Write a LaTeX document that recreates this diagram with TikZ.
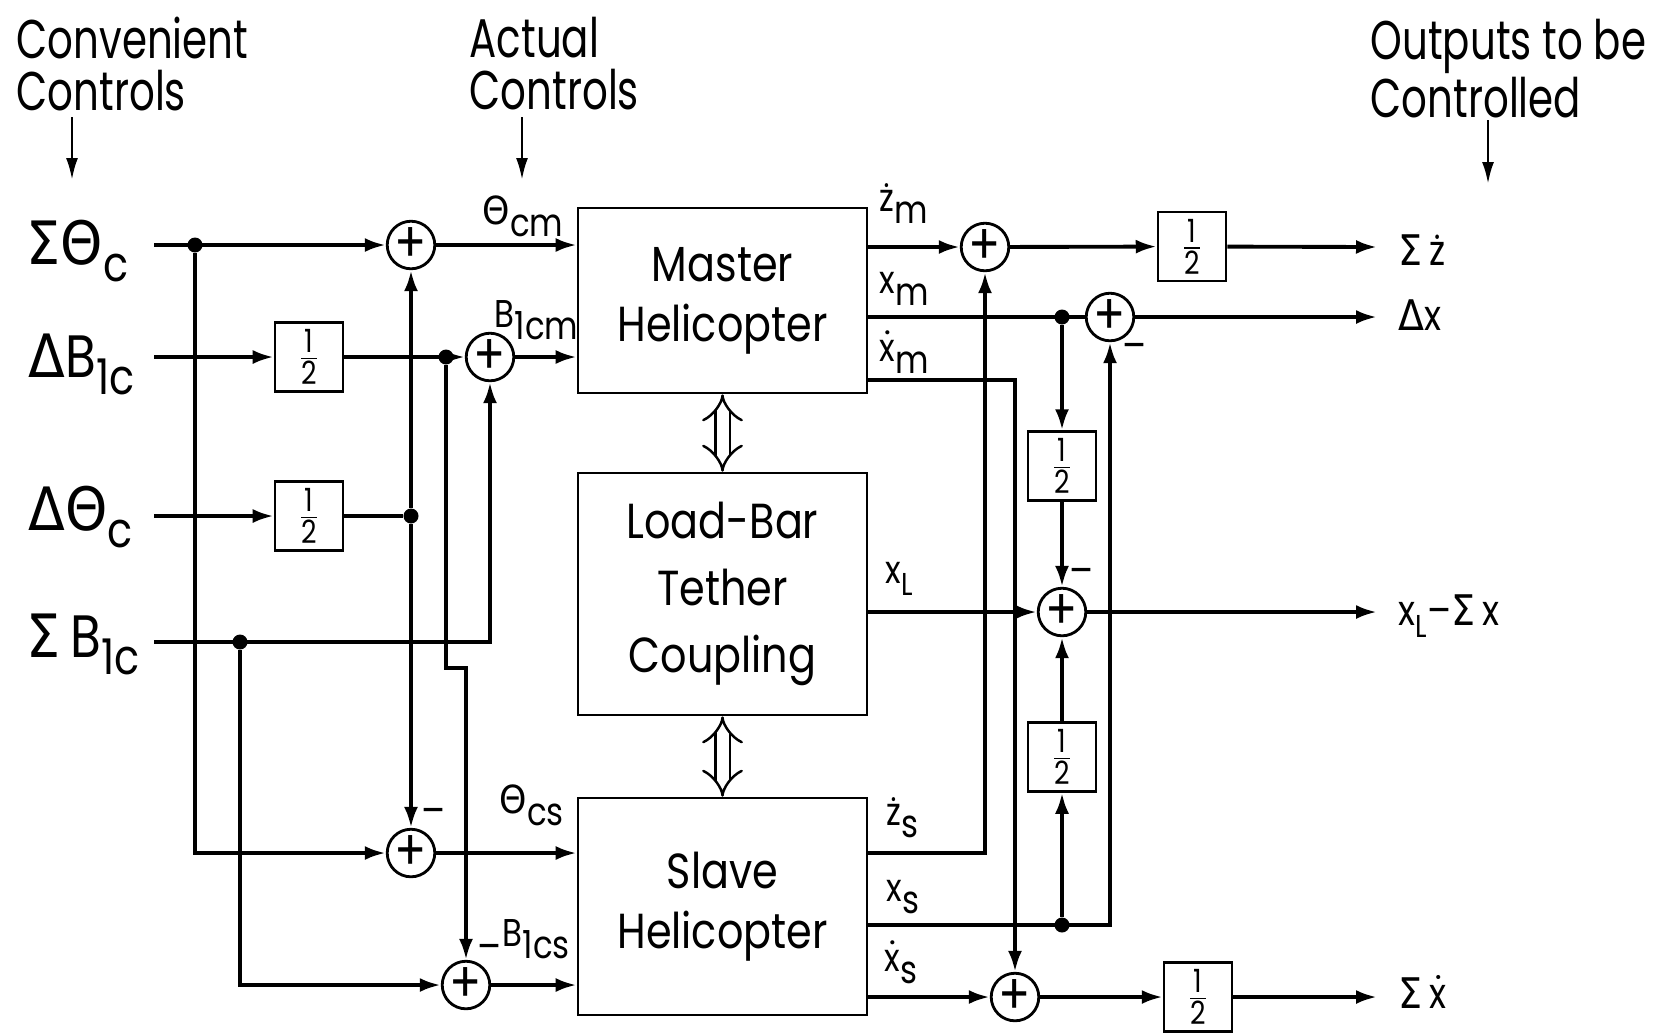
\documentclass[tikz,border=0pt]{standalone}
\usepackage{amsmath}
\usepackage{fontspec}
\setmainfont{Poppins}[FakeStretch=0.84]
\newfontfamily\narrowfont{Poppins}[FakeStretch=0.74]
\newfontfamily\grkfont{DejaVu Sans}[FakeStretch=0.9]
\usepackage{tikz}
\usetikzlibrary{arrows.meta,calc,positioning}
\newcommand{\Sig}{{\grkfont Σ}}
\newcommand{\Del}{{\grkfont Δ}}
\newcommand{\Tht}{{\grkfont Θ}}
\newcommand{\lo}[1]{\raisebox{-5pt}{\fontsize{14}{14}\selectfont #1}}
\newcommand{\ls}[1]{\raisebox{-3.5pt}{#1}}
\newcommand{\dotover}[1]{$\dot{\text{#1}}$}
\newcommand{\half}{$\frac{\text{1}}{\text{2}}$}
\tikzset{
>={Latex[length=2.1mm,width=1.4mm]},
heli box/.style={
  draw,
  line width=0.7pt,
  minimum width=2.89cm,
  minimum height=1.85cm,
  align=center,
  inner sep=2pt,
  font=\fontsize{14}{17}\selectfont
},
bar box/.style={heli box, minimum height=2.42cm, font=\fontsize{14}{19}\selectfont},
gain box/.style={draw, line width=0.7pt, minimum width=0.68cm, minimum height=0.69cm, inner sep=0pt, font=\fontsize{13}{15}\selectfont},
sum node/.style={draw, circle, line width=0.8pt, minimum size=0.38cm, inner sep=0pt, font=\fontsize{16}{16}\selectfont},
junction/.style={circle, fill, minimum size=1.5mm, inner sep=0pt},
sig flow/.style={->, line width=1.1pt},
sig line/.style={line width=1.1pt},
couple arrow/.style={double, double distance=1.2mm, line width=0.7pt, {Implies}-{Implies}},
in label/.style={anchor=base west, inner sep=0pt, font=\fontsize{17}{20}\selectfont},
sig label/.style={anchor=base west, inner sep=0pt, font=\fontsize{11}{13}\selectfont},
out label/.style={anchor=base west, inner sep=0pt, font=\fontsize{12}{14}\selectfont},
sign label/.style={inner sep=0pt, font=\fontsize{12}{12}\selectfont},
head label/.style={anchor=north west, inner sep=0pt, align=left, font=\narrowfont\fontsize{15.5}{15}\selectfont},
head arrow/.style={-{Latex[length=2.2mm,width=1.2mm]}, line width=0.8pt}
}
\begin{document}
\begin{tikzpicture}[x=0.01cm,y=-0.01cm]
\useasboundingbox (0,0) rectangle (1661,1032);

% headings
\node[head label] (hConv) at (16,16) {Convenient\\Controls};
\node[head label] (hAct) at (469,16) {Actual\\Controls};
\node[head label] (hOut) at (1370,18) {Outputs to be\\Controlled};
\coordinate (sConv) at (72,117);
\coordinate (tConv) at (72,180);
\coordinate (sAct) at (522,117);
\coordinate (tAct) at (522,180);
\coordinate (sOut) at (1488,120);
\coordinate (tOut) at (1488,184);
\draw[head arrow] (sConv) -- (tConv);
\draw[head arrow] (sAct) -- (tAct);
\draw[head arrow] (sOut) -- (tOut);

% blocks
\node[heli box] (master) at (722.5,300.5) {Master\\Helicopter};
\node[bar box] (coupling) at (722.5,594) {Load-Bar\\Tether\\Coupling};
\node[heli box,minimum height=2.17cm] (slave) at (722.5,906.5) {Slave\\Helicopter};
\draw[couple arrow] (master.south) -- (coupling.north);
\draw[couple arrow] (coupling.south) -- (slave.north);

% convenient controls
\node[in label] (lST) at (26,264) {\Sig\Tht\lo{c}};
\node[in label] (lDB) at (28,377) {\Del B\lo{1c}};
\node[in label] (lDT) at (28,530) {\Del\Tht\lo{c}};
\node[in label] (lSB) at (26,657) {\Sig\,B\lo{1c}};
\coordinate (inST) at (154,245);
\coordinate (inDB) at (154,357);
\coordinate (inDT) at (154,516);
\coordinate (inSB) at (154,642);

\node[gain box] (gDB) at (309,357) {\half};
\node[gain box] (gDT) at (309,516) {\half};
\node[sum node] (s1) at (411,245) {+};
\node[sum node] (s2) at (490,357) {+};
\node[sum node] (s3) at (411,853) {+};
\node[sum node] (s4) at (466,985) {+};
\coordinate (k1) at (446,668);

\draw[sig flow] (inST) -- (s1);
\draw[sig flow] (inDB) -- (gDB);
\draw[sig flow] (gDB) -- (s2);
\draw[sig flow] (inDT) -- (gDT);
\draw[sig flow] (inSB) -| (s2);
\node[junction] (j1) at (195,245) {};
\node[junction] (j2) at (240,642) {};
\node[junction] (j3) at (446,357) {};
\node[junction] (j4) at (411,516) {};
\draw[sig line] (gDT) -- (j4);
\draw[sig flow] (j4) -- (s1);
\draw[sig flow] (j4) -- (s3);
\draw[sig flow] (j1) |- (s3);
\draw[sig flow] (j2) |- (s4);
\draw[sig flow] (j3) -- (k1) -| (s4);
\node[sign label] (m3) at (433,817) {–};
\node[sign label] (m4) at (489,953) {–};

% actual controls
\draw[sig flow] (s1) -- (s1 -| master.west);
\draw[sig flow] (s2) -- (s2 -| master.west);
\draw[sig flow] (s3) -- (s3 -| slave.west);
\draw[sig flow] (s4) -- (s4 -| slave.west);
\node[sig label] (lTcm) at (482,224) {\Tht\ls{cm}};
\node[sig label] (lBcm) at (494,327) {B\ls{1cm}};
\node[sig label] (lTcs) at (499,813) {\Tht\ls{cs}};
\node[sig label] (lBcs) at (502,946) {B\ls{1cs}};

% helicopter and load outputs
\coordinate (zmo) at (867,247);
\coordinate (xmo) at (867,317);
\coordinate (xdmo) at (867,380);
\coordinate (xLo) at (867,612);
\coordinate (zso) at (867,853);
\coordinate (xso) at (867,925);
\coordinate (xdso) at (867,997);
\node[sig label] (lzm) at (879,211) {ż\ls{m}};
\node[sig label] (lxm) at (879,293) {x\ls{m}};
\node[sig label] (lxdm) at (879,361) {\dotover{x}\ls{m}};
\node[sig label] (lxL) at (885,583) {x\ls{\fontsize{9}{9}\selectfont L}};
\node[sig label] (lzs) at (886,825) {ż\ls{s}};
\node[sig label] (lxs) at (886,901) {x\ls{s}};
\node[sig label] (lxds) at (884,971) {\dotover{x}\ls{s}};

\node[sum node] (s5) at (985,247) {+};
\node[sum node] (s6) at (1110,317) {+};
\node[sum node] (s7) at (1062,612) {+};
\node[sum node] (s8) at (1015,997) {+};
\node[gain box] (gZ) at (1192,246.5) {\half};
\node[gain box] (gXm) at (1062,466) {\half};
\node[gain box] (gXs) at (1062,757) {\half};
\node[gain box] (gX) at (1198,997) {\half};
\coordinate (oZ) at (1377,247);
\coordinate (oDX) at (1377,317);
\coordinate (oXL) at (1377,612);
\coordinate (oX) at (1377,997);

\draw[sig flow] (zmo) -- (s5);
\draw[sig flow] (s5) -- (gZ);
\draw[sig flow] (gZ) -- (oZ);
\draw[sig line] (xmo) -- (s6);
\draw[sig flow] (s6) -- (oDX);
\draw[sig flow] (xdmo) -| (s8);
\draw[sig flow] (xLo) -- (s7);
\draw[sig flow] (s7) -- (oXL);
\draw[sig flow] (zso) -| (s5);
\draw[sig flow] (xso) -| (s6);
\draw[sig flow] (xdso) -- (s8);
\draw[sig flow] (s8) -- (gX);
\draw[sig flow] (gX) -- (oX);
\node[junction] (j5) at (1062,317) {};
\node[junction] (j6) at (1062,925) {};
\draw[sig flow] (j5) -- (gXm);
\draw[sig flow] (gXm) -- (s7);
\draw[sig flow] (j6) -- (gXs);
\draw[sig flow] (gXs) -- (s7);
\node[sign label] (m6) at (1134,352) {–};
\node[sign label] (m7) at (1081,577) {–};

% outputs to be controlled
\node[out label] (lOZ) at (1398,265) {\Sig\,ż};
\node[out label] (lODX) at (1398,330) {\Del x};
\node[out label] (lOXL) at (1398,625) {x\ls{\fontsize{9}{9}\selectfont L}–\Sig\,x};
\node[out label] (lOX) at (1398,1008) {\Sig\,\dotover{x}};
\end{tikzpicture}
\end{document}
